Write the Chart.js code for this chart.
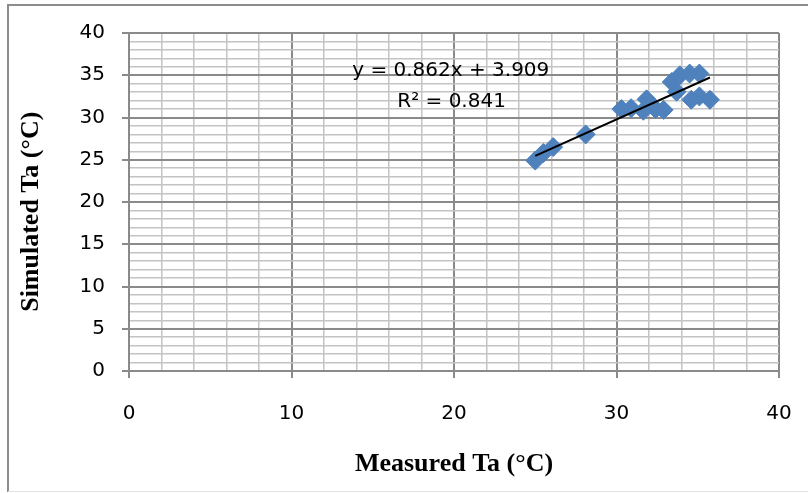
<!DOCTYPE html>
<html>
<head>
<meta charset="utf-8">
<script src="https://cdn.jsdelivr.net/npm/chart.js@4/dist/chart.umd.min.js"></script>
<style>
  html, body { margin: 0; padding: 0; background: #ffffff; }
  #wrap { width: 808px; height: 493px; position: relative; }
</style>
</head>
<body>
<div id="wrap"><canvas id="c" width="808" height="493"></canvas></div>
<script>
// ---- data ----
const measuredTa  = [25.0, 25.5, 26.1, 28.1, 30.3, 30.9, 31.65, 31.85, 32.4, 32.9, 33.4, 33.7, 33.9, 34.5, 35.1, 34.6, 35.1, 35.75];
const simulatedTa = [24.9, 25.8, 26.5, 28.0, 31.0, 31.1, 30.8, 32.15, 31.0, 30.9, 34.2, 33.05, 35.0, 35.2, 35.2, 32.1, 32.5, 32.1];
const trendX = [25.0, 35.75];
const trendY = [25.46, 34.73];
const equationText = "y = 0.862x + 3.909";
const r2Text = "R\u00B2 = 0.841";
const xTitle = "Measured Ta (\u00B0C)";
const yTitle = "Simulated Ta (\u00B0C)   ";
const xTickLabels = [0, 10, 20, 30, 40];
const yTickLabels = [0, 5, 10, 15, 20, 25, 30, 35, 40];

const points = measuredTa.map((x, i) => ({ x: x, y: simulatedTa[i] }));
const trend = trendX.map((x, i) => ({ x: x, y: trendY[i] }));

const MAJOR = '#8a8a8a';
const MINOR = '#c4c4c4';

const frame = {
  id: 'frame',
  beforeDraw(chart) {
    const ctx = chart.ctx;
    ctx.save();
    ctx.fillStyle = '#ffffff';
    ctx.fillRect(0, 0, chart.width, chart.height);
    ctx.strokeStyle = '#8c8c8c';
    ctx.lineWidth = 2;
    ctx.beginPath();
    ctx.moveTo(8, 492);
    ctx.lineTo(8, 5);
    ctx.lineTo(812, 5);
    ctx.stroke();
    ctx.strokeStyle = '#e2e2e2';
    ctx.lineWidth = 1;
    ctx.beginPath();
    ctx.moveTo(8, 491.5);
    ctx.lineTo(812, 491.5);
    ctx.stroke();
    ctx.restore();
  }
};

const eqLabel = {
  id: 'eqLabel',
  afterDatasetsDraw(chart) {
    const ctx = chart.ctx;
    const xs = chart.scales.x, ys = chart.scales.y;
    ctx.save();
    ctx.fillStyle = '#000000';
    ctx.font = '20px "DejaVu Sans"';
    ctx.textAlign = 'center';
    ctx.textBaseline = 'middle';
    ctx.fillText(equationText, xs.getPixelForValue(19.8), ys.getPixelForValue(35.5));
    ctx.fillText(r2Text, xs.getPixelForValue(19.85), ys.getPixelForValue(31.85));
    ctx.restore();
  }
};

const isMajor = (v, step) => Math.abs(v / step - Math.round(v / step)) < 1e-6;

new Chart(document.getElementById('c'), {
  data: {
    datasets: [
      {
        type: 'line',
        label: 'Trend',
        data: trend,
        borderColor: '#000000',
        borderWidth: 2,
        pointRadius: 0,
        fill: false,
        order: 0
      },
      {
        type: 'scatter',
        label: 'Ta',
        data: points,
        pointStyle: 'rectRot',
        pointRadius: 9.5,
        pointHoverRadius: 9.5,
        backgroundColor: '#4F81BD',
        borderColor: '#4F81BD',
        borderWidth: 1,
        order: 1
      }
    ]
  },
  options: {
    responsive: false,
    animation: false,
    events: [],
    layout: { padding: { top: 33, right: 29, bottom: 0, left: 0 } },
    plugins: {
      legend: { display: false },
      tooltip: { enabled: false }
    },
    scales: {
      x: {
        type: 'linear',
        min: 0,
        max: 40,
        afterFit(s) { s.height = 122; s.paddingLeft = 0; s.paddingRight = 0; },
        ticks: {
          stepSize: 2,
          autoSkip: false,
          maxRotation: 0,
          padding: 24,
          color: '#000000',
          font: { family: 'DejaVu Sans', size: 20 },
          callback: (v) => xTickLabels.includes(v) ? String(v) : ''
        },
        grid: {
          color: (c) => (c.tick && isMajor(c.tick.value, 10)) ? MAJOR : MINOR,
          lineWidth: (c) => (c.tick && isMajor(c.tick.value, 10)) ? 2 : 1.5,
          tickColor: (c) => (c.tick && isMajor(c.tick.value, 10)) ? MAJOR : 'rgba(0,0,0,0)',
          tickWidth: 2,
          tickLength: 7,
          drawTicks: true
        },
        border: { display: true, color: MAJOR, width: 2 },
        title: {
          display: true,
          text: xTitle,
          color: '#000000',
          font: { family: 'Liberation Serif', size: 26, weight: 'bold' },
          padding: { top: 0, bottom: 13 }
        }
      },
      y: {
        type: 'linear',
        min: 0,
        max: 40,
        afterFit(s) { s.width = 129; s.paddingTop = 0; s.paddingBottom = 0; },
        ticks: {
          stepSize: 1,
          autoSkip: false,
          padding: 17,
          color: '#000000',
          font: { family: 'DejaVu Sans', size: 20 },
          callback: (v) => yTickLabels.includes(v) ? String(v) : ''
        },
        grid: {
          color: (c) => (c.tick && isMajor(c.tick.value, 5)) ? MAJOR : MINOR,
          lineWidth: (c) => (c.tick && isMajor(c.tick.value, 5)) ? 2 : 1.5,
          tickColor: (c) => (c.tick && isMajor(c.tick.value, 5)) ? MAJOR : 'rgba(0,0,0,0)',
          tickWidth: 2,
          tickLength: 7,
          drawTicks: true
        },
        border: { display: true, color: MAJOR, width: 2 },
        title: {
          display: true,
          text: yTitle,
          color: '#000000',
          font: { family: 'Liberation Serif', size: 26, weight: 'bold' },
          padding: { top: 16, bottom: 0 }
        }
      }
    }
  },
  plugins: [frame, eqLabel]
});
</script>
</body>
</html>
